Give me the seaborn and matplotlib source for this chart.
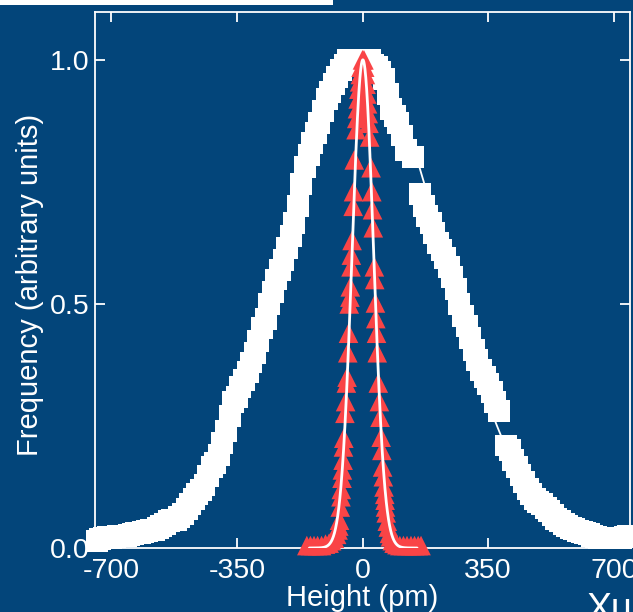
import numpy as np
import pandas as pd
import matplotlib
matplotlib.use("Agg")
import matplotlib.pyplot as plt
import seaborn as sns
from matplotlib.patches import Rectangle

# Broad height distribution (white squares)
broad_height = [-740, -730, -720, -710, -700, -690, -680, -670, -660, -650,
                -640, -630, -620, -610, -600, -590, -580, -570, -560, -550,
                -540, -530, -520, -510, -500, -490, -480, -470, -460, -450,
                -440, -430, -420, -410, -400, -390, -380, -370, -360, -350,
                -340, -330, -320, -310, -300, -290, -280, -270, -260, -250,
                -240, -230, -220, -210, -200, -190, -180, -170, -160, -150,
                -140, -130, -120, -110, -100, -90, -80, -70, -60, -50,
                -40, -30, -20, -10, 0, 10, 20, 30, 40, 50,
                60, 70, 80, 90, 100, 110, 120, 140,
                160, 170, 180, 190, 200, 210, 220, 230, 240, 250,
                260, 270, 280, 290, 300, 310, 320, 330, 340, 350,
                360, 370, 380, 400, 410, 420, 430, 440, 450,
                460, 470, 480, 490, 500, 510, 520, 530, 540, 550,
                560, 570, 580, 590, 600, 610, 620, 630, 640, 650,
                660, 670, 680, 690, 700, 710, 720, 730, 740]
broad_freq = [0.015, 0.018, 0.02, 0.022, 0.02, 0.022, 0.025, 0.024, 0.025, 0.027,
              0.028, 0.030, 0.03, 0.032, 0.035, 0.036, 0.037, 0.040, 0.045, 0.050,
              0.055, 0.057, 0.058, 0.063, 0.07, 0.080, 0.09, 0.100, 0.11, 0.118,
              0.13, 0.148, 0.165, 0.175, 0.19, 0.215, 0.24, 0.27, 0.30, 0.31,
              0.33, 0.345, 0.36, 0.38, 0.40, 0.425, 0.45, 0.47, 0.50, 0.525,
              0.55, 0.57, 0.59, 0.615, 0.64, 0.665, 0.70, 0.745, 0.78, 0.805,
              0.83, 0.85, 0.87, 0.895, 0.92, 0.935, 0.95, 0.965, 0.98, 0.99,
              1.00, 1.00, 0.99, 0.995, 1.00, 1.00, 1.00, 0.99, 0.985, 0.975,
              0.96, 0.93, 0.90, 0.885, 0.87, 0.845, 0.815, 0.80,
              0.725, 0.70, 0.68, 0.665, 0.645, 0.625, 0.61, 0.595, 0.575, 0.555,
              0.53, 0.50, 0.475, 0.455, 0.43, 0.405, 0.385, 0.365, 0.35, 0.335,
              0.32, 0.30, 0.28, 0.21, 0.20, 0.18, 0.165, 0.15, 0.135,
              0.12, 0.11, 0.10, 0.095, 0.09, 0.082, 0.075, 0.068, 0.06, 0.055,
              0.05, 0.045, 0.04, 0.038, 0.035, 0.032, 0.03, 0.028, 0.025, 0.022,
              0.02, 0.02, 0.02, 0.02, 0.02, 0.02, 0.02, 0.022, 0.025]

# Narrow height distribution (red triangles): left and right flanks
narrow_left_height = [0, -4, -6, -8, -10, -12, -14, -16, -18, -23, -25,
                      -26, -29, -31, -32, -34, -35, -37, -39, -41, -43,
                      -45, -47, -49, -52, -53, -54, -56, -57, -59, -60, -62, -64, -66, -68,
                      -72, -78, -86, -93, -103, -114, -125, -135, -145, -155]
narrow_left_freq = [1.0, 0.985, 0.97, 0.955, 0.94, 0.92, 0.90, 0.88, 0.857, 0.795, 0.73,
                    0.70, 0.63, 0.60, 0.576, 0.535, 0.514, 0.50, 0.44, 0.40, 0.35,
                    0.338, 0.30, 0.276, 0.225, 0.207, 0.18, 0.16, 0.143, 0.12, 0.105, 0.084, 0.057, 0.045, 0.037,
                    0.028, 0.02, 0.015, 0.01, 0.008, 0.005, 0.005, 0.005, 0.005, 0.005]
narrow_right_height = [4, 6, 8, 10, 12, 14, 16, 18, 20, 24, 26,
                       28, 30, 33, 34, 36, 37, 39, 41, 44, 47,
                       49, 52, 54, 56, 58, 60, 62, 63, 64, 66, 69, 72,
                       75, 78, 83, 88, 96, 104, 114, 124, 135, 145, 155, 163]
narrow_right_freq = [1.0, 0.985, 0.97, 0.95, 0.93, 0.91, 0.89, 0.87, 0.842, 0.779, 0.73,
                     0.693, 0.656, 0.576, 0.55, 0.502, 0.47, 0.44, 0.40, 0.338, 0.30,
                     0.268, 0.227, 0.20, 0.166, 0.146, 0.125, 0.11, 0.098, 0.084, 0.072, 0.055, 0.043,
                     0.03, 0.023, 0.015, 0.01, 0.007, 0.005, 0.005, 0.005, 0.005, 0.005, 0.005, 0.005]

# Gaussian fit parameters (amplitude, centre, width) and the range each fit is drawn over
broad_fit = {"amp": 1.0, "mu": 0.0, "sigma": 225.0, "lo": -745.0, "hi": 745.0}
narrow_fit = {"amp": 1.0, "mu": 1.0, "sigma": 30.0, "lo": -148.0, "hi": 152.0}

x_ticks = [-700, -350, 0, 350, 700]
y_ticks = [0.0, 0.5, 1.0]
x_label = "Height (pm)"
y_label = "Frequency (arbitrary units)"
credit = "Xu"

BG = "#03457A"
RED = "#F94446"
FG = "white"

sns.set_theme(style="ticks")
plt.rcParams["font.family"] = ["Liberation Sans", "DejaVu Sans"]


def gauss_curve(p, n=400):
    x = np.linspace(p["lo"], p["hi"], n)
    y = p["amp"] * np.exp(-0.5 * ((x - p["mu"]) / p["sigma"]) ** 2)
    return pd.DataFrame({"height": x, "freq": y})


broad = pd.DataFrame({"height": broad_height, "freq": broad_freq})
narrow = pd.DataFrame({
    "height": narrow_left_height + narrow_right_height,
    "freq": narrow_left_freq + narrow_right_freq,
})

W, H = 633, 612
fig = plt.figure(figsize=(W / 100, H / 100), dpi=100, facecolor=BG)
ax = fig.add_axes([95 / W, 1 - 548 / H, 535 / W, 536 / H])
ax.set_facecolor(BG)

sns.scatterplot(data=broad, x="height", y="freq", marker="s", s=250,
                color=FG, edgecolor="none", linewidth=0, ax=ax,
                legend=False, clip_on=False, zorder=2)
sns.lineplot(data=gauss_curve(broad_fit), x="height", y="freq",
             color=FG, linewidth=1.3, ax=ax, zorder=3)
sns.scatterplot(data=narrow, x="height", y="freq", marker="^", s=200,
                color=RED, edgecolor="none", linewidth=0, ax=ax,
                legend=False, clip_on=False, zorder=4)
sns.lineplot(data=gauss_curve(narrow_fit), x="height", y="freq",
             color=FG, linewidth=2.0, ax=ax, zorder=5)

ax.set_xlim(-745, 745)
ax.set_ylim(0, 1.098)
ax.set_xticks(x_ticks)
ax.set_xticklabels([str(t) for t in x_ticks])
ax.set_yticks(y_ticks)
ax.set_yticklabels([f"{t:.1f}" for t in y_ticks])

for side in ["left", "right", "top", "bottom"]:
    ax.spines[side].set_visible(True)
    ax.spines[side].set_color(FG)
    ax.spines[side].set_linewidth(1.3)

ax.tick_params(axis="both", which="major", direction="in", length=7, width=1.3,
               colors=FG, labelcolor=FG, labelsize=20.5,
               top=True, right=True, labeltop=False, labelright=False)
ax.tick_params(axis="x", pad=7)
ax.tick_params(axis="y", pad=4)

ax.set_xlabel(x_label, fontsize=21, color=FG, labelpad=0)
ax.set_ylabel(y_label, fontsize=21, color=FG, labelpad=4)
ax.yaxis.set_label_coords(-0.095, 0.49)

fig.add_artist(Rectangle((0, 1 - 5 / H), 333 / W, 5 / H,
                         transform=fig.transFigure, facecolor=FG,
                         edgecolor="none"))
fig.text(586 / W, 1 - 592 / H, credit, fontsize=27, color=FG,
         ha="left", va="top")

fig.savefig("out.png", dpi=100, facecolor=BG)
